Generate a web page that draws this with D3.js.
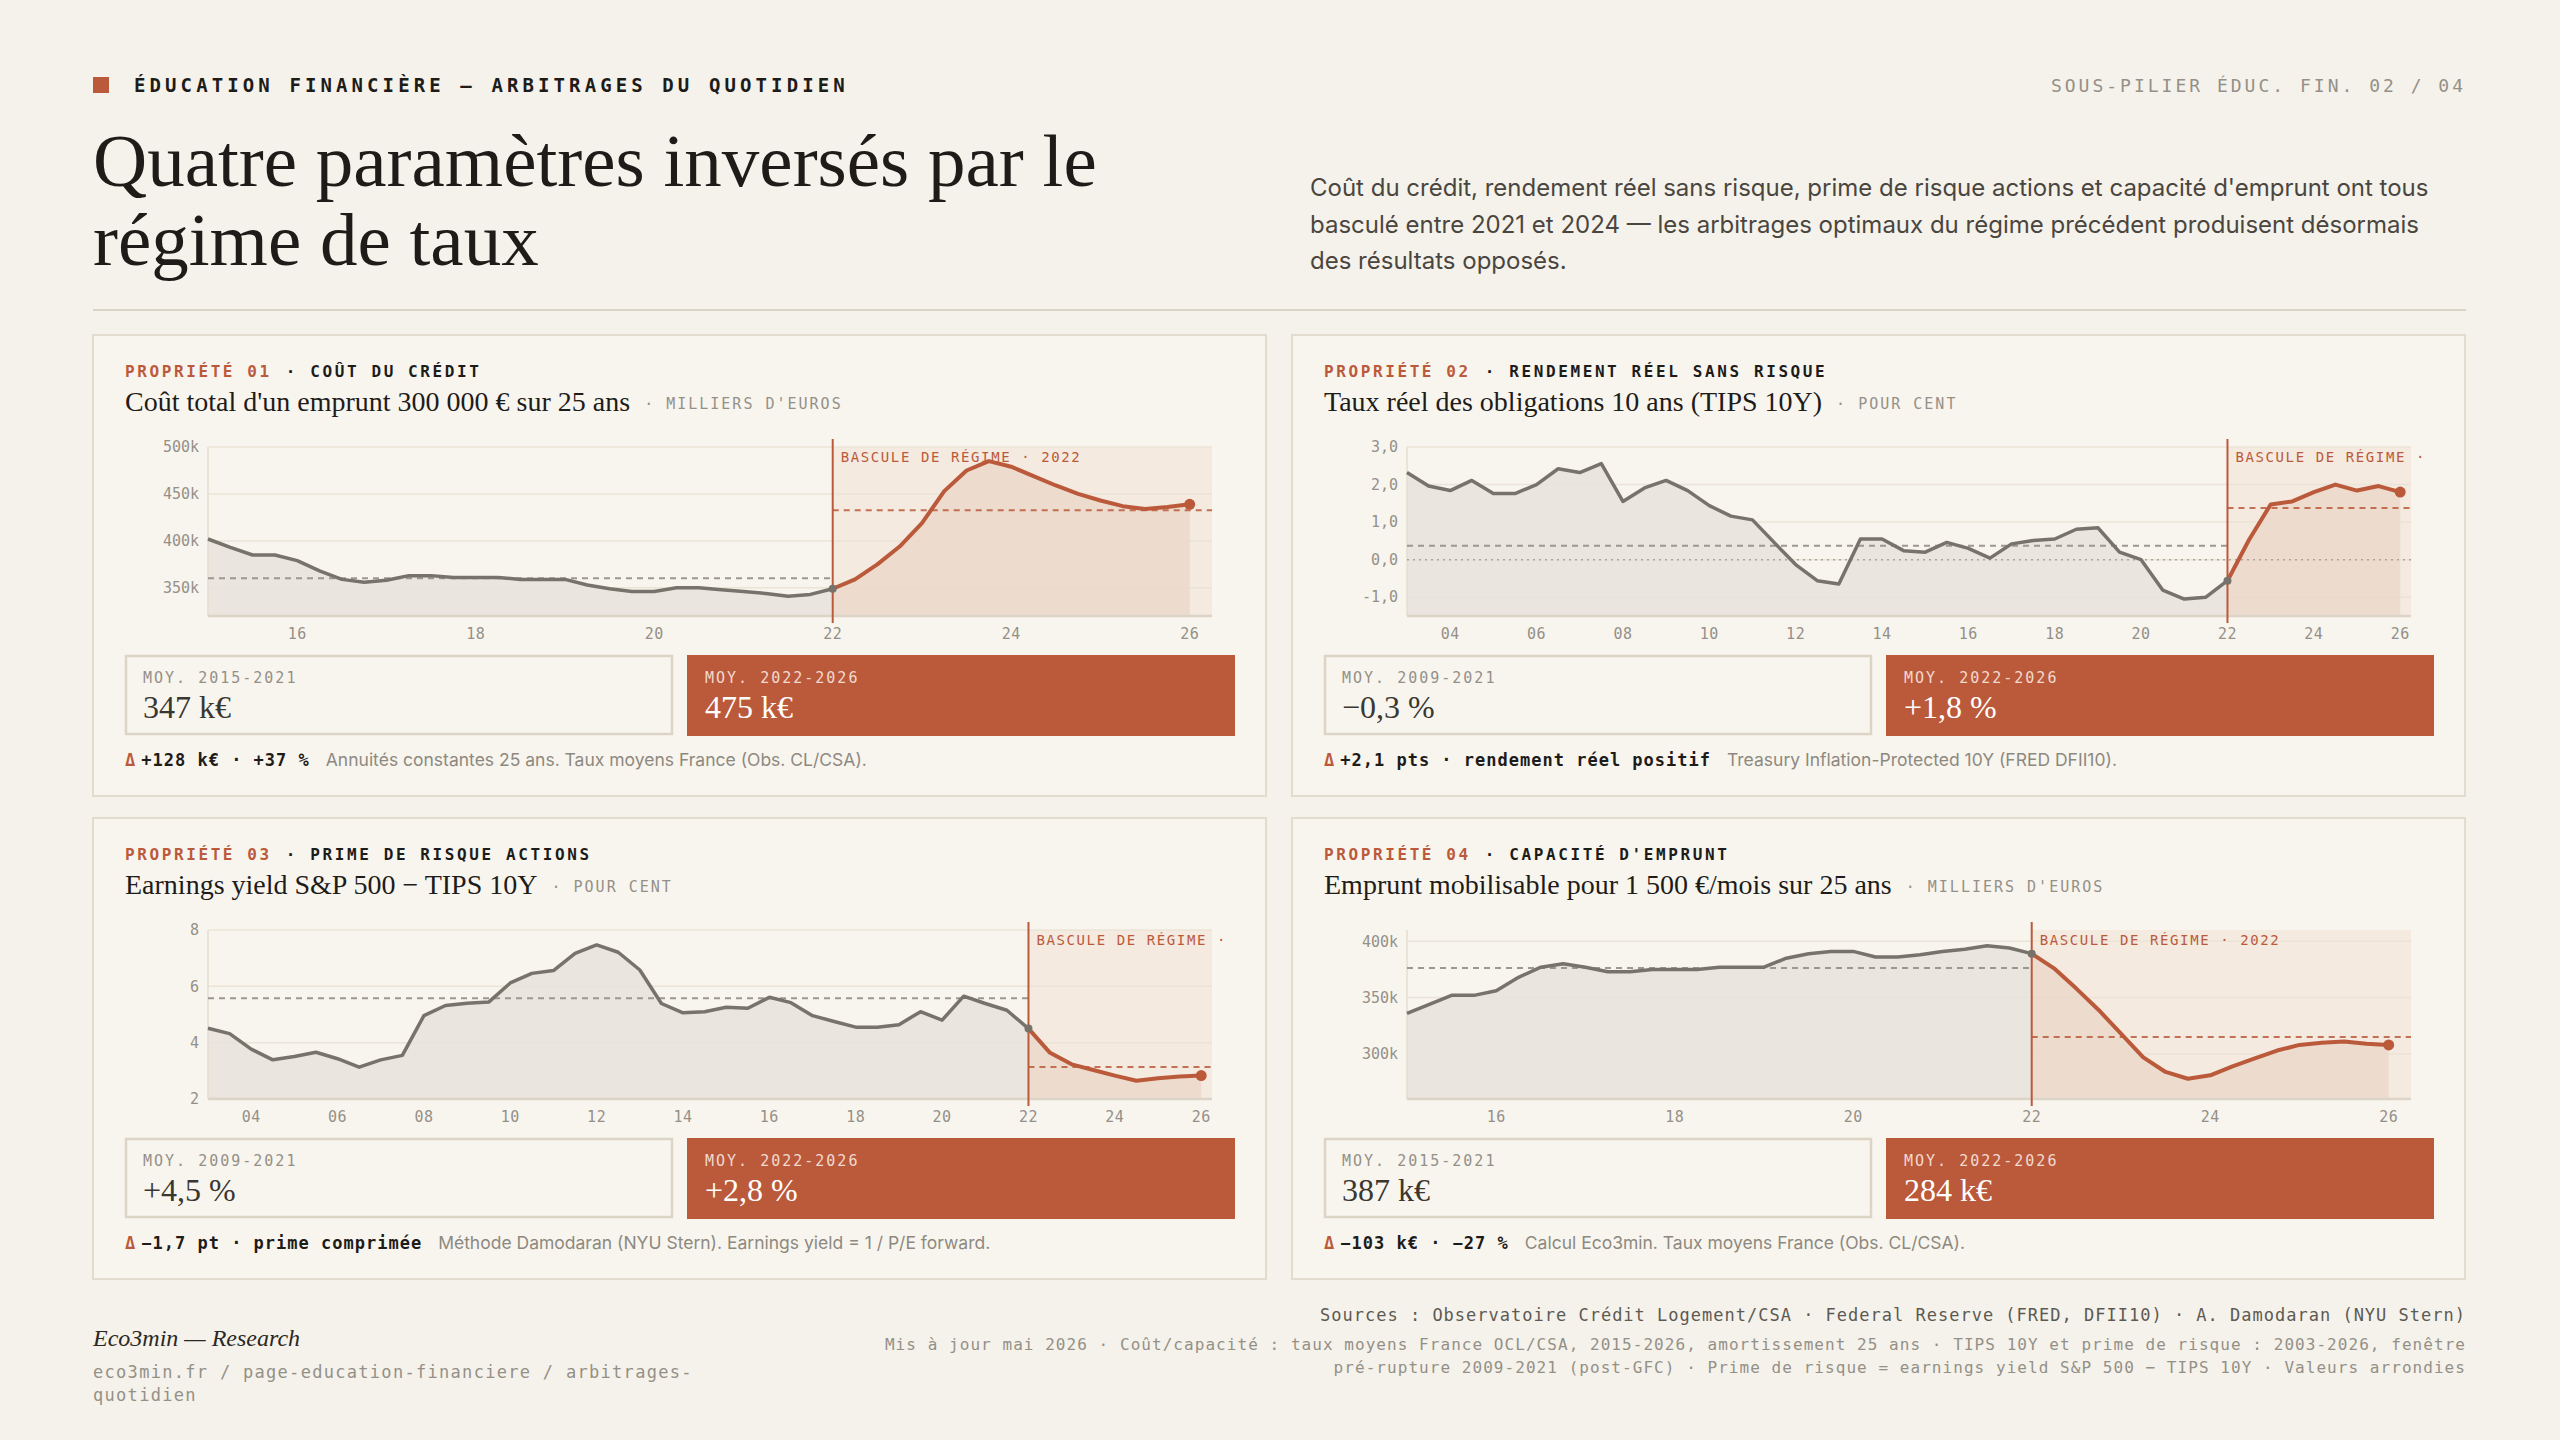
<!DOCTYPE html>
<html lang="fr">
<head>
<meta charset="utf-8">
<title>Quatre paramètres inversés par le régime de taux</title>
<script src="https://cdn.jsdelivr.net/npm/d3@7"></script>
<style>
  html, body { margin: 0; padding: 0; background: #f5f2eb; }
  svg { display: block; }
  .mono { font-family: "DejaVu Sans Mono", monospace; }
  .serif { font-family: "Liberation Serif", "DejaVu Serif", serif; }
  .sans { font-family: Inter, "Noto Sans", sans-serif; }
</style>
</head>
<body>
<script>
// ---- data ----
const regimeYear = 2022;
const endYear = 2026;

// Propriété 01 : coût total d'un emprunt (k€), trimestriel 2015 -> 2026
const costStart = 2015;
const costStep = 0.25;
const costValues = [402, 393, 385, 385, 379, 368, 359, 356, 358, 363, 363, 361, 361, 361,
  359, 359, 359, 353, 349, 346, 346, 350, 350, 348, 346, 344, 341, 343,
  349, 359, 375, 394, 419, 453, 475, 485, 479, 469, 459, 450, 443, 437, 434, 436, 439];
const costTicks = [350, 400, 450, 500];

// Propriété 02 : TIPS 10Y (%), semestriel 2003 -> 2026
const tipsStart = 2003;
const tipsStep = 0.5;
const tipsValues = [2.32, 1.96, 1.84, 2.11, 1.76, 1.76, 2.0, 2.42, 2.32, 2.56, 1.55, 1.91,
  2.11, 1.84, 1.44, 1.16, 1.06, 0.46, -0.13, -0.56, -0.65, 0.55, 0.55, 0.24, 0.20, 0.46,
  0.30, 0.04, 0.42, 0.51, 0.55, 0.81, 0.85, 0.20, 0.0, -0.81, -1.05, -1.0,
  -0.56, 0.53, 1.47, 1.55, 1.80, 2.0, 1.84, 1.96, 1.80];
const tipsTicks = [-1, 0, 1, 2, 3];

// Propriété 03 : prime de risque actions (%), semestriel 2003 -> 2026
const erpStart = 2003;
const erpStep = 0.5;
const erpValues = [4.51, 4.32, 3.77, 3.39, 3.51, 3.66, 3.43, 3.13, 3.39, 3.55, 4.96, 5.32,
  5.40, 5.44, 6.12, 6.46, 6.56, 7.17, 7.47, 7.21, 6.58, 5.39, 5.06, 5.10, 5.26, 5.22,
  5.61, 5.42, 4.96, 4.75, 4.55, 4.55, 4.64, 5.10, 4.80, 5.65, 5.39, 5.15,
  4.50, 3.64, 3.23, 3.03, 2.83, 2.65, 2.74, 2.80, 2.83];
const erpTicks = [2, 4, 6, 8];

// Propriété 04 : capacité d'emprunt (k€), trimestriel 2015 -> 2026
const capStart = 2015;
const capStep = 0.25;
const capValues = [336, 344, 352, 352, 356, 368, 377, 380, 377, 373, 373, 375, 375, 375,
  377, 377, 377, 385, 389, 391, 391, 386, 386, 388, 391, 393, 396, 394,
  389, 376, 358, 339, 318, 297, 284, 278, 281, 289, 296, 303, 308, 310, 311, 309, 308];
const capTicks = [300, 350, 400];

const shortYearTicks = [2016, 2018, 2020, 2022, 2024, 2026];
const longYearTicks = [2004, 2006, 2008, 2010, 2012, 2014, 2016, 2018, 2020, 2022, 2024, 2026];

const preLabels = ["MOY. 2015-2021", "MOY. 2009-2021", "MOY. 2009-2021", "MOY. 2015-2021"];
const preValues = ["347 k€", "−0,3 %", "+4,5 %", "387 k€"];
const postLabels = ["MOY. 2022-2026", "MOY. 2022-2026", "MOY. 2022-2026", "MOY. 2022-2026"];
const postValues = ["475 k€", "+1,8 %", "+2,8 %", "284 k€"];
const deltaStrong = ["+128 k€ · +37 %", "+2,1 pts · rendement réel positif",
  "−1,7 pt · prime comprimée", "−103 k€ · −27 %"];
const deltaNotes = ["Annuités constantes 25 ans. Taux moyens France (Obs. CL/CSA).",
  "Treasury Inflation-Protected 10Y (FRED DFII10).",
  "Méthode Damodaran (NYU Stern). Earnings yield = 1 / P/E forward.",
  "Calcul Eco3min. Taux moyens France (Obs. CL/CSA)."];

// ---- colours ----
const C = {
  bg: "#f5f2eb", panel: "#f8f5ef", border: "#e2dccf",
  ink: "#1e1c19", grey: "#949087", greyLine: "#77736a",
  orange: "#bb5a3b", shade: "#f4eae0", preArea: "#e8e3db", postArea: "#ebd8ca",
  grid: "#ebe4d6"
};

const kFmt = d => d + "k";
const commaFmt = d => d.toFixed(1).replace(".", ",");
const intFmt = d => String(d);

const panels = [
  { num: "01", name: "COÛT DU CRÉDIT", title: "Coût total d'un emprunt 300 000 € sur 25 ans",
    unit: "MILLIERS D'EUROS", start: costStart, step: costStep, values: costValues,
    yDomain: [320, 500], yTicks: costTicks, yFmt: kFmt, xTicks: shortYearTicks, win: 2015,
    label: "BASCULE DE RÉGIME · 2022", zero: false, x: 93, y: 335 },
  { num: "02", name: "RENDEMENT RÉEL SANS RISQUE", title: "Taux réel des obligations 10 ans (TIPS 10Y)",
    unit: "POUR CENT", start: tipsStart, step: tipsStep, values: tipsValues,
    yDomain: [-1.5, 3], yTicks: tipsTicks, yFmt: commaFmt, xTicks: longYearTicks, win: 2009,
    label: "BASCULE DE RÉGIME · 2022", zero: true, x: 1292, y: 335 },
  { num: "03", name: "PRIME DE RISQUE ACTIONS", title: "Earnings yield S&P 500 − TIPS 10Y",
    unit: "POUR CENT", start: erpStart, step: erpStep, values: erpValues,
    yDomain: [2, 8], yTicks: erpTicks, yFmt: intFmt, xTicks: longYearTicks, win: 2009,
    label: "BASCULE DE RÉGIME · 2022", zero: false, x: 93, y: 818 },
  { num: "04", name: "CAPACITÉ D'EMPRUNT", title: "Emprunt mobilisable pour 1 500 €/mois sur 25 ans",
    unit: "MILLIERS D'EUROS", start: capStart, step: capStep, values: capValues,
    yDomain: [260, 410], yTicks: capTicks, yFmt: kFmt, xTicks: shortYearTicks, win: 2015,
    label: "BASCULE DE RÉGIME · 2022", zero: false, x: 1292, y: 818 }
];

const W = 2560, H = 1440;
const svg = d3.select("body").append("svg").attr("width", W).attr("height", H);
svg.append("rect").attr("width", W).attr("height", H).attr("fill", C.bg);

// ---- header ----
svg.append("rect").attr("x", 93).attr("y", 77).attr("width", 16).attr("height", 16).attr("fill", C.orange);
svg.append("text").attr("class", "mono").attr("x", 134).attr("y", 92)
  .attr("font-size", 19).attr("font-weight", 700).attr("letter-spacing", 4.1).attr("fill", C.ink)
  .text("ÉDUCATION FINANCIÈRE — ARBITRAGES DU QUOTIDIEN");
svg.append("text").attr("class", "mono").attr("x", 2466).attr("y", 92).attr("text-anchor", "end")
  .attr("font-size", 18).attr("letter-spacing", 3).attr("fill", C.grey)
  .text("SOUS-PILIER ÉDUC. FIN. 02 / 04");

const title = svg.append("text").attr("class", "serif").attr("font-size", 75).attr("fill", C.ink);
title.append("tspan").attr("x", 93).attr("y", 186).text("Quatre paramètres inversés par le");
title.append("tspan").attr("x", 93).attr("y", 265).text("régime de taux");

const desc = svg.append("text").attr("class", "sans").attr("font-size", 24).attr("fill", "#4a463f");
["Coût du crédit, rendement réel sans risque, prime de risque actions et capacité d'emprunt ont tous",
 "basculé entre 2021 et 2024 — les arbitrages optimaux du régime précédent produisent désormais",
 "des résultats opposés."].forEach((line, i) => {
  desc.append("tspan").attr("x", 1310).attr("y", 196 + i * 36.5).text(line);
});

svg.append("line").attr("x1", 93).attr("x2", 2466).attr("y1", 310).attr("y2", 310)
  .attr("stroke", "#dad4c7").attr("stroke-width", 2);

// ---- panels ----
const PW = 1173, PH = 461, PAD = 32, IW = 1110;
const margin = { left: 83, right: 23, top: 22, bottom: 191 };

panels.forEach((p, i) => {
  const g = svg.append("g").attr("transform", `translate(${p.x},${p.y})`);
  g.append("rect").attr("width", PW).attr("height", PH)
    .attr("fill", C.panel).attr("stroke", C.border).attr("stroke-width", 2);

  const eyebrow = g.append("text").attr("class", "mono").attr("x", PAD).attr("y", 42)
    .attr("font-size", 16).attr("letter-spacing", 2.6);
  eyebrow.append("tspan").attr("fill", C.orange).attr("font-weight", 600).text("PROPRIÉTÉ " + p.num);
  eyebrow.append("tspan").attr("fill", C.ink).attr("font-weight", 700).attr("dx", 14).text("· " + p.name);

  const t = g.append("text").attr("class", "serif").attr("x", PAD).attr("y", 76)
    .attr("font-size", 28).attr("fill", C.ink).text(p.title);
  const tw = t.node().getComputedTextLength();
  g.append("text").attr("class", "mono").attr("x", PAD + tw + 14).attr("y", 74)
    .attr("font-size", 15).attr("letter-spacing", 2).attr("fill", C.grey)
    .text("· " + p.unit);

  // chart
  const data = p.values.map((v, k) => ({ t: p.start + k * p.step, v }));
  const pre = data.filter(d => d.t <= regimeYear);
  const post = data.filter(d => d.t >= regimeYear);
  const preMean = d3.mean(data.filter(d => d.t >= p.win && d.t < regimeYear), d => d.v);
  const postMean = d3.mean(post, d => d.v);

  const cg = g.append("g").attr("transform", `translate(${PAD},90)`);
  const clipId = "clip" + i;
  cg.append("clipPath").attr("id", clipId).append("rect")
    .attr("x", 0).attr("y", -10).attr("width", IW).attr("height", 260);
  const c = cg.append("g").attr("clip-path", `url(#${clipId})`);

  const x = d3.scaleLinear().domain([p.start, endYear + 0.25]).range([margin.left, IW - margin.right]);
  const y = d3.scaleLinear().domain(p.yDomain).range([margin.bottom, margin.top]);
  const xr = x(regimeYear), xl = x.range()[0], xe = x.range()[1];

  c.append("rect").attr("x", xr).attr("y", margin.top).attr("width", xe - xr)
    .attr("height", margin.bottom - margin.top).attr("fill", C.shade);

  c.append("g").selectAll("line").data(p.yTicks).join("line")
    .attr("x1", xl).attr("x2", xe).attr("y1", d => y(d)).attr("y2", d => y(d))
    .attr("stroke", C.grid).attr("stroke-width", 1.5);

  const area = d3.area().x(d => x(d.t)).y0(margin.bottom).y1(d => y(d.v));
  c.append("path").datum(pre).attr("d", area).attr("fill", C.preArea).attr("fill-opacity", 0.9);
  c.append("path").datum(post).attr("d", area).attr("fill", C.postArea).attr("fill-opacity", 0.85);

  // axis lines
  c.append("line").attr("x1", xl).attr("x2", xl).attr("y1", margin.top).attr("y2", margin.bottom)
    .attr("stroke", "#e4ddd0").attr("stroke-width", 1.5);
  c.append("line").attr("x1", xl).attr("x2", xe).attr("y1", margin.bottom).attr("y2", margin.bottom)
    .attr("stroke", "#dcd5c7").attr("stroke-width", 2.5);

  if (p.zero) {
    c.append("line").attr("x1", xl).attr("x2", xe).attr("y1", y(0)).attr("y2", y(0))
      .attr("stroke", "#aaa59b").attr("stroke-width", 1.5).attr("stroke-dasharray", "2 4");
  }

  c.append("line").attr("x1", xl).attr("x2", xr).attr("y1", y(preMean)).attr("y2", y(preMean))
    .attr("stroke", "#9c988e").attr("stroke-width", 2).attr("stroke-dasharray", "6 5");
  c.append("line").attr("x1", xr).attr("x2", xe).attr("y1", y(postMean)).attr("y2", y(postMean))
    .attr("stroke", C.orange).attr("stroke-width", 2).attr("stroke-dasharray", "6 5").attr("stroke-opacity", 0.85);

  const line = d3.line().x(d => x(d.t)).y(d => y(d.v));
  c.append("path").datum(pre).attr("d", line).attr("fill", "none")
    .attr("stroke", C.greyLine).attr("stroke-width", 3.5).attr("stroke-linejoin", "round");
  c.append("path").datum(post).attr("d", line).attr("fill", "none")
    .attr("stroke", C.orange).attr("stroke-width", 4).attr("stroke-linejoin", "round");

  c.append("line").attr("x1", xr).attr("x2", xr).attr("y1", margin.top - 8).attr("y2", margin.bottom + 7)
    .attr("stroke", C.orange).attr("stroke-width", 2);

  const junction = pre[pre.length - 1];
  c.append("circle").attr("cx", x(junction.t)).attr("cy", y(junction.v)).attr("r", 4).attr("fill", C.greyLine);
  const last = data[data.length - 1];
  c.append("circle").attr("cx", x(last.t)).attr("cy", y(last.v)).attr("r", 5.5).attr("fill", C.orange);

  c.append("text").attr("class", "mono").attr("x", xr + 8).attr("y", margin.top + 15)
    .attr("font-size", 14).attr("letter-spacing", 1.6).attr("fill", C.orange).text(p.label);

  // tick labels
  cg.append("g").selectAll("text").data(p.yTicks).join("text").attr("class", "mono")
    .attr("x", margin.left - 9).attr("y", d => y(d)).attr("dy", "0.35em").attr("text-anchor", "end")
    .attr("font-size", 15).attr("fill", C.grey).text(p.yFmt);
  cg.append("g").selectAll("text").data(p.xTicks).join("text").attr("class", "mono")
    .attr("x", d => x(d)).attr("y", 214).attr("text-anchor", "middle")
    .attr("font-size", 15).attr("letter-spacing", 0.5).attr("fill", C.grey)
    .text(d => d3.format("02d")(d % 100));

  // stat boxes
  const bw = 548, gap = 14;
  const bg = g.append("g").attr("transform", `translate(${PAD},320)`);
  bg.append("rect").attr("x", 1).attr("y", 1).attr("width", bw - 2).attr("height", 78)
    .attr("fill", C.panel).attr("stroke", "#dcd5c6").attr("stroke-width", 2.5);
  bg.append("rect").attr("x", bw + gap).attr("y", 0).attr("width", bw).attr("height", 81)
    .attr("fill", C.orange);
  bg.append("text").attr("class", "mono").attr("x", 18).attr("y", 28).attr("font-size", 15)
    .attr("letter-spacing", 2).attr("fill", C.grey).text(preLabels[i]);
  bg.append("text").attr("class", "serif").attr("x", 18).attr("y", 63).attr("font-size", 32)
    .attr("fill", "#3a3731").text(preValues[i]);
  bg.append("text").attr("class", "mono").attr("x", bw + gap + 18).attr("y", 28).attr("font-size", 15)
    .attr("letter-spacing", 2).attr("fill", "#f1d9cf").text(postLabels[i]);
  bg.append("text").attr("class", "serif").attr("x", bw + gap + 18).attr("y", 63).attr("font-size", 32)
    .attr("fill", "#ffffff").text(postValues[i]);

  // delta note
  const note = g.append("text").attr("x", PAD).attr("y", 431);
  note.append("tspan").attr("class", "mono").attr("font-size", 17).attr("font-weight", 700)
    .attr("fill", C.orange).text("Δ");
  note.append("tspan").attr("class", "mono").attr("dx", 6).attr("font-size", 17).attr("font-weight", 700)
    .attr("letter-spacing", 1).attr("fill", C.ink).text(deltaStrong[i]);
  note.append("tspan").attr("class", "sans").attr("dx", 16).attr("font-size", 17.5)
    .attr("fill", "#8d897f").text(deltaNotes[i]);
});

// ---- footer ----
svg.append("text").attr("class", "serif").attr("x", 93).attr("y", 1346)
  .attr("font-size", 24).attr("font-style", "italic").attr("fill", "#2a2824").text("Eco3min — Research");
const url = svg.append("text").attr("class", "mono").attr("font-size", 17)
  .attr("letter-spacing", 1.3).attr("fill", C.grey);
url.append("tspan").attr("x", 93).attr("y", 1378).text("eco3min.fr / page-education-financiere / arbitrages-");
url.append("tspan").attr("x", 93).attr("y", 1401).text("quotidien");

svg.append("text").attr("class", "mono").attr("x", 2466).attr("y", 1321).attr("text-anchor", "end")
  .attr("font-size", 17).attr("letter-spacing", 1).attr("fill", "#5d5a53")
  .text("Sources : Observatoire Crédit Logement/CSA · Federal Reserve (FRED, DFII10) · A. Damodaran (NYU Stern)");
const fine = svg.append("text").attr("class", "mono").attr("font-size", 16)
  .attr("letter-spacing", 1.05).attr("fill", C.grey).attr("text-anchor", "end");
fine.append("tspan").attr("x", 2466).attr("y", 1350)
  .text("Mis à jour mai 2026 · Coût/capacité : taux moyens France OCL/CSA, 2015-2026, amortissement 25 ans · TIPS 10Y et prime de risque : 2003-2026, fenêtre");
fine.append("tspan").attr("x", 2466).attr("y", 1373)
  .text("pré-rupture 2009-2021 (post-GFC) · Prime de risque = earnings yield S&P 500 − TIPS 10Y · Valeurs arrondies");
</script>
</body>
</html>
